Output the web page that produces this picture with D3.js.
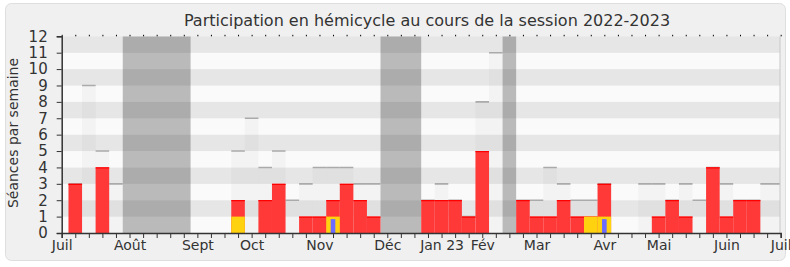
<!DOCTYPE html>
<html>
  <head>
    <meta charset="utf-8">
    <title>Participation en hémicycle</title>
    <script src="https://cdn.jsdelivr.net/npm/d3@7"></script>
    <style>
      body { margin: 0; background: #fff; }
      svg text { font-family: "DejaVu Sans", sans-serif; fill: #333; }
    </style>
  </head>
  <body>
    <svg id="chart" width="790" height="267"></svg>

    <script>
      // one value per week, week 0 = first tick (start of July 2022)
      var seances = [0,3,9,5,3,0,0,0,0,0, 0,0,0,5,7,4,5,2,3,4, 4,4,3,3,0,0,0,2,3,2, 1,8,11,0,2,2,4,3,2,2, 3,0,0,3,3,2,3,2,4,3, 2,2,3,3];
      var presences = [0,3,0,4,0,0,0,0,0,0, 0,0,0,2,0,2,3,0,1,1, 2,3,2,1,0,0,0,2,2,2, 1,5,0,0,2,1,1,2,1,1, 3,0,0,0,1,2,1,0,4,1, 2,2,0,0];
      var commissionWeeks = [13, 20, 39, 40];
      var commissionValues = [1, 1, 1, 1];
      var questionWeeks = [20, 40];
      var questionValues = [1, 1];
      var vacances = [[5, 9], [24, 26], [33, 33]];
      var monthLabels = ["Juil", "Août", "Sept", "Oct", "Nov", "Déc", "Jan 23", "Fév", "Mar", "Avr", "Mai", "Juin", "Juil"];
      var monthWeeks = [0, 5, 10, 14, 19, 24, 28, 31, 35, 40, 44, 49, 53];

      var svg = d3.select("#chart");
      var plotLeft = 61.7, plotRight = 780, plotTop = 36.3, plotBottom = 233;

      var x = d3.scaleLinear().domain([0, 53]).range([plotLeft, 780.7]);
      var y = d3.scaleLinear().domain([0, 12]).range([plotBottom, plotTop]);
      var bw = x(1) - x(0);

      // panel
      svg.append("rect")
        .attr("x", 5.5).attr("y", 3.5)
        .attr("width", 780).attr("height", 257)
        .attr("rx", 6)
        .attr("fill", "#f0f0f0")
        .attr("stroke", "#dedede");

      svg.append("text")
        .attr("x", 427).attr("y", 26)
        .attr("text-anchor", "middle")
        .style("font-size", "16px")
        .text("Participation en hémicycle au cours de la session 2022-2023");

      svg.append("defs").append("clipPath")
        .attr("id", "plotClip")
        .append("rect")
          .attr("x", plotLeft).attr("y", plotTop)
          .attr("width", plotRight - plotLeft).attr("height", plotBottom - plotTop);

      var plot = svg.append("g").attr("clip-path", "url(#plotClip)");

      // alternating bands
      plot.selectAll(".band")
        .data(d3.range(0, 12))
        .enter().append("rect")
          .attr("x", plotLeft).attr("width", plotRight - plotLeft)
          .attr("y", function(d) { return y(d + 1); })
          .attr("height", function(d) { return y(d) - y(d + 1); })
          .attr("fill", function(d) { return d % 2 ? "#e6e6e6" : "#fafafa"; });

      // recess periods
      plot.selectAll(".vac")
        .data(vacances)
        .enter().append("rect")
          .attr("x", function(d) { return x(d[0] - 0.5); })
          .attr("width", function(d) { return x(d[1] + 0.5) - x(d[0] - 0.5); })
          .attr("y", plotTop).attr("height", plotBottom - plotTop)
          .attr("fill", "rgba(40,40,40,0.3)");

      // sessions held each week
      var weeks = d3.range(seances.length);
      var held = weeks.filter(function(i) { return seances[i] > 0; });
      plot.selectAll(".seance")
        .data(held)
        .enter().append("rect")
          .attr("x", function(i) { return x(i - 0.5); })
          .attr("width", bw)
          .attr("y", function(i) { return y(seances[i]); })
          .attr("height", function(i) { return y(0) - y(seances[i]); })
          .attr("fill", "rgba(120,120,120,0.05)");
      plot.selectAll(".seanceTop")
        .data(held)
        .enter().append("line")
          .attr("x1", function(i) { return x(i - 0.5); })
          .attr("x2", function(i) { return x(i + 0.5); })
          .attr("y1", function(i) { return y(seances[i]); })
          .attr("y2", function(i) { return y(seances[i]); })
          .attr("stroke", "#aaa")
          .attr("stroke-width", 1.6);

      // presences
      var pres = weeks.filter(function(i) { return presences[i] > 0; });
      plot.selectAll(".pres")
        .data(pres)
        .enter().append("rect")
          .attr("x", function(i) { return x(i - 0.5); })
          .attr("width", bw)
          .attr("y", function(i) { return y(presences[i]); })
          .attr("height", function(i) { return y(0) - y(presences[i]); })
          .attr("fill", "#ff3838");
      plot.selectAll(".presTop")
        .data(pres)
        .enter().append("line")
          .attr("x1", function(i) { return x(i - 0.5); })
          .attr("x2", function(i) { return x(i + 0.5); })
          .attr("y1", function(i) { return y(presences[i]) + 0.5; })
          .attr("y2", function(i) { return y(presences[i]) + 0.5; })
          .attr("stroke", "#f00")
          .attr("stroke-width", 1.3);

      // commission
      plot.selectAll(".com")
        .data(commissionWeeks)
        .enter().append("rect")
          .attr("x", function(w) { return x(w - 0.5); })
          .attr("width", bw)
          .attr("y", function(w, j) { return y(commissionValues[j]); })
          .attr("height", function(w, j) { return y(0) - y(commissionValues[j]); })
          .attr("fill", "#ffd20f");

      // questions
      plot.selectAll(".quest")
        .data(questionWeeks)
        .enter().append("rect")
          .attr("x", function(w) { return x(w) - bw * 0.17; })
          .attr("width", bw * 0.34)
          .attr("y", function(w, j) { return y(questionValues[j]) + 2.5; })
          .attr("height", function(w, j) { return y(0) - y(questionValues[j]) - 2.5; })
          .attr("fill", "#6b6bff");

      // right border
      svg.append("line")
        .attr("x1", plotRight).attr("x2", plotRight)
        .attr("y1", plotTop).attr("y2", plotBottom)
        .attr("stroke", "#c8c8c8");

      // axes
      var xAxis = svg.append("g")
        .attr("transform", "translate(0," + plotBottom + ")")
        .call(d3.axisBottom(x)
          .tickValues(d3.range(0, 54))
          .tickSize(5)
          .tickPadding(2)
          .tickFormat(function(d) {
            var k = monthWeeks.indexOf(d);
            return k >= 0 ? monthLabels[k] : "";
          }));
      xAxis.select(".domain").attr("stroke", "#333").attr("stroke-width", 1.5);
      xAxis.selectAll(".tick line").attr("stroke", "#333");
      xAxis.selectAll("text").style("font-size", "14px").attr("fill", "#333");

      var topAxis = svg.append("g")
        .attr("transform", "translate(0," + plotTop + ")")
        .call(d3.axisTop(x).tickValues(d3.range(0, 54)).tickSize(1.5).tickFormat(""));
      topAxis.select(".domain").remove();
      topAxis.selectAll(".tick line").attr("stroke", "#000");

      var yAxis = svg.append("g")
        .attr("transform", "translate(" + plotLeft + ",0)")
        .call(d3.axisLeft(y).tickValues(d3.range(0, 13)).tickSize(5).tickPadding(9));
      yAxis.select(".domain").attr("stroke", "#333").attr("stroke-width", 1.5);
      yAxis.selectAll(".tick line").attr("stroke", "#333");
      yAxis.selectAll("text").style("font-size", "15px").attr("fill", "#333");

      svg.append("text")
        .attr("transform", "translate(18,133) rotate(-90)")
        .attr("text-anchor", "middle")
        .style("font-size", "14px")
        .text("Séances par semaine");
    </script>
  </body>
</html>
